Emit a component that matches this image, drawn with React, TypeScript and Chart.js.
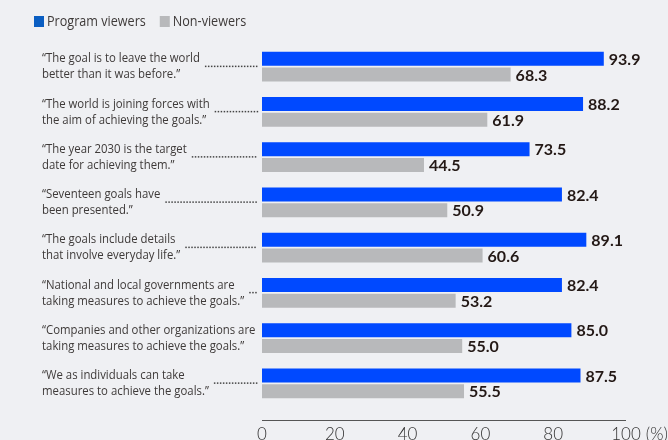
import React, { useEffect, useRef } from "react";
import { Chart, registerables } from "chart.js";

Chart.register(...registerables);

const categoryLines: string[][] = [
  ["“The goal is to leave the world", "better than it was before.”"],
  ["“The world is joining forces with", "the aim of achieving the goals.”"],
  ["“The year 2030 is the target", "date for achieving them.”"],
  ["“Seventeen goals have", "been presented.”"],
  ["“The goals include details", "that involve everyday life.”"],
  ["“National and local governments are", "taking measures to achieve the goals.”"],
  ["“Companies and other organizations are", "taking measures to achieve the goals.”"],
  ["“We as individuals can take", "measures to achieve the goals.”"],
];
const viewers = [93.9, 88.2, 73.5, 82.4, 89.1, 82.4, 85.0, 87.5];
const nonViewers = [68.3, 61.9, 44.5, 50.9, 60.6, 53.2, 55.0, 55.5];
const xTicks = [0, 20, 40, 60, 80, 100];
const seriesNames = ["Program viewers", "Non-viewers"];

const BLUE = "#0049ff";
const LEGEND_BLUE = "#0a5ec2";
const GRAY = "#b8b9bb";
const TEXT = "#3e3a39";
const DARK = "#231815";

function drawNarrow(ctx: CanvasRenderingContext2D, text: string, x: number, y: number, sx: number) {
  ctx.save();
  ctx.translate(x, y);
  ctx.scale(sx, 1);
  ctx.fillText(text, 0, 0);
  ctx.restore();
  return ctx.measureText(text).width * sx;
}

export default function App() {
  const ref = useRef<HTMLCanvasElement | null>(null);
  useEffect(() => {
    document.body.style.margin = "0";
    const canvas = ref.current!;
    const overlay = {
      id: "overlay",
      afterDraw(chart: any) {
        const ctx = chart.ctx as CanvasRenderingContext2D;
        const xs = chart.scales.x;
        const ys = chart.scales.y;
        const area = chart.chartArea;
        ctx.save();
        // legend
        ctx.font = "14px 'Open Sans'";
        ctx.textBaseline = "middle";
        ctx.textAlign = "left";
        let lx = 34;
        const colors = [LEGEND_BLUE, GRAY];
        seriesNames.forEach((n, i) => {
          ctx.fillStyle = colors[i];
          ctx.fillRect(lx, 16, 10, 11);
          ctx.fillStyle = TEXT;
          const w = drawNarrow(ctx, n, lx + 13, 22, 0.9);
          lx += 13 + w + 14;
        });
        // category labels + leaders
        ctx.font = "13px 'Open Sans'";
        const sx = 0.875;
        categoryLines.forEach((lines, i) => {
          const cy = ys.getPixelForValue(i);
          ctx.fillStyle = TEXT;
          ctx.textAlign = "left";
          const w1 = drawNarrow(ctx, lines[0], 42, cy - 8, sx);
          const w2 = drawNarrow(ctx, lines[1], 42, cy + 8, sx);
          const w = Math.max(w1, w2);
          const start = 42 + w + 5;
          const end = area.left - 4;
          ctx.fillStyle = "#444";
          for (let x = start; x <= end - 1; x += 3) {
            ctx.fillRect(x, cy - 1, 1.5, 1.5);
          }
        });
        // value labels
        ctx.font = "bold 16px Lato";
        ctx.fillStyle = DARK;
        ctx.textAlign = "left";
        chart.data.datasets.forEach((ds: any, di: number) => {
          const meta = chart.getDatasetMeta(di);
          meta.data.forEach((bar: any, i: number) => {
            ctx.fillText(Number(ds.data[i]).toFixed(1), bar.x + 5, bar.y + 1);
          });
        });
        // axis
        const axisY = area.bottom + 14;
        ctx.strokeStyle = "#555";
        ctx.lineWidth = 1;
        ctx.beginPath();
        ctx.moveTo(xs.getPixelForValue(0), axisY + 0.5);
        ctx.lineTo(xs.getPixelForValue(100), axisY + 0.5);
        ctx.stroke();
        ctx.font = "300 17px Lato";
        ctx.fillStyle = "#333";
        ctx.textAlign = "center";
        xTicks.forEach((t) => {
          const px = xs.getPixelForValue(t);
          ctx.fillText(String(t), px, axisY + 15);
          if (t === 100) {
            const w = ctx.measureText(String(t)).width;
            ctx.textAlign = "left";
            ctx.fillText("(%)", px + w / 2 + 5, axisY + 15);
            ctx.textAlign = "center";
          }
        });
        ctx.restore();
      },
    };
    const chart = new Chart(canvas, {
      type: "bar",
      data: {
        labels: categoryLines.map((l) => l.join(" ")),
        datasets: [
          { label: seriesNames[0], data: viewers, backgroundColor: BLUE, barPercentage: 0.88, categoryPercentage: 0.7 },
          { label: seriesNames[1], data: nonViewers, backgroundColor: GRAY, barPercentage: 0.88, categoryPercentage: 0.7 },
        ],
      },
      options: {
        indexAxis: "y",
        animation: false,
        responsive: false,
        maintainAspectRatio: false,
        layout: { padding: { left: 262, right: 42, top: 44, bottom: 34 } },
        scales: {
          x: { display: false, min: 0, max: 100 },
          y: { display: false },
        },
        plugins: { legend: { display: false }, tooltip: { enabled: false } },
      },
      plugins: [overlay],
    });
    return () => chart.destroy();
  }, []);
  return (
    <div style={{ position: "absolute", left: 0, top: 0, width: 668, height: 440, background: "#eff0f3" }}>
      <canvas ref={ref} width={668} height={440} style={{ width: 668, height: 440, display: "block" }} />
    </div>
  );
}
